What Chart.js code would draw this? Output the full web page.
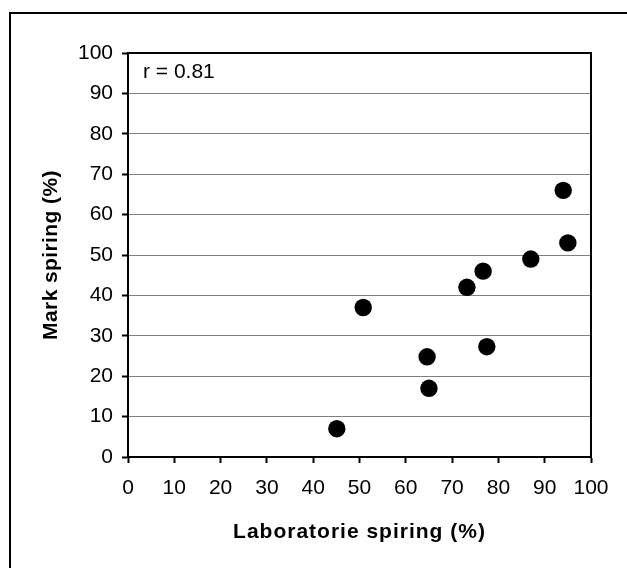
<!DOCTYPE html>
<html>
<head>
<meta charset="utf-8">
<script src="https://cdn.jsdelivr.net/npm/chart.js@4"></script>
<style>
  html, body { margin: 0; padding: 0; background: #fff; overflow: hidden; }
  #wrap { position: relative; width: 627px; height: 568px; }
  #frame { position: absolute; left: 9px; top: 12px; width: 700px; height: 700px; border: 2px solid #000; box-sizing: border-box; }
  canvas { position: absolute; left: 0; top: 0; }
</style>
</head>
<body>
<div id="wrap">
  <div id="frame"></div>
  <canvas id="chart" width="627" height="568"></canvas>
</div>
<script>
// values
const labSpiring = [45.1, 50.8, 64.6, 65.0, 73.2, 76.7, 77.5, 87.0, 94.0, 95.0];
const markSpiring = [7.0, 37.0, 24.8, 17.0, 42.0, 46.0, 27.3, 49.0, 66.0, 53.0];
const xTicks = [0, 10, 20, 30, 40, 50, 60, 70, 80, 90, 100];
const yTicks = [0, 10, 20, 30, 40, 50, 60, 70, 80, 90, 100];
const xTitle = 'Laboratorie spiring (%)';
const yTitle = 'Mark spiring (%)';
const corrText = 'r = 0.81';

const FONT = '"Liberation Sans", Arial, sans-serif';

const points = labSpiring.map((x, i) => ({ x: x, y: markSpiring[i] }));

// box round the plot area, the r value and the two axis titles
// (titles drawn here so the letter spacing of the original can be kept)
const plotFrame = {
    id: 'plotFrame',
    afterDraw: function(chart) {
        const ctx = chart.ctx;
        const a = chart.chartArea;
        const midX = (a.left + a.right) / 2;
        const midY = (a.top + a.bottom) / 2;
        ctx.save();
        ctx.strokeStyle = '#000';
        ctx.lineWidth = 2;
        ctx.strokeRect(a.left, a.top, a.right - a.left, a.bottom - a.top);

        ctx.fillStyle = '#000';
        ctx.font = '21px ' + FONT;
        ctx.textAlign = 'left';
        ctx.textBaseline = 'middle';
        ctx.fillText(corrText, a.left + 15, a.top + 19);

        ctx.font = 'bold 21px ' + FONT;
        ctx.textAlign = 'center';
        ctx.letterSpacing = '1px';
        ctx.fillText(xTitle, midX, a.bottom + 75);

        ctx.letterSpacing = '0.4px';
        ctx.translate(a.left - 77, midY);
        ctx.rotate(-Math.PI / 2);
        ctx.fillText(yTitle, 0, 0);
        ctx.restore();
    }
};

const ctx = document.getElementById('chart').getContext('2d');
const chart = new Chart(ctx, {
    type: 'scatter',
    data: {
        datasets: [{
            data: points,
            backgroundColor: '#000',
            borderWidth: 0,
            pointRadius: 8.7,
            pointHoverRadius: 8.7
        }]
    },
    options: {
        responsive: false,
        animation: false,
        events: [],
        layout: { padding: { left: 40, top: 53, right: 36, bottom: 0 } },
        plugins: {
            legend: { display: false },
            tooltip: { enabled: false }
        },
        scales: {
            x: {
                type: 'linear',
                min: 0,
                max: 100,
                afterBuildTicks: function(scale) { scale.ticks = xTicks.map(v => ({ value: v })); },
                afterFit: function(scale) { scale.height = 111; },
                ticks: { color: '#000', font: { family: FONT, size: 21 }, padding: 13, maxRotation: 0 },
                grid: { drawOnChartArea: false, drawTicks: true, tickLength: 6, tickColor: '#000', tickWidth: 2 },
                border: { color: '#000', width: 2 },
                title: { display: false }
            },
            y: {
                type: 'linear',
                min: 0,
                max: 100,
                afterBuildTicks: function(scale) { scale.ticks = yTicks.map(v => ({ value: v })); },
                afterFit: function(scale) { scale.width = 88; },
                ticks: { color: '#000', font: { family: FONT, size: 21 }, padding: 9 },
                grid: { color: '#808080', lineWidth: 1, drawTicks: true, tickLength: 6, tickColor: '#000', tickWidth: 2 },
                border: { color: '#000', width: 2 },
                title: { display: false }
            }
        }
    },
    plugins: [plotFrame]
});
</script>
</body>
</html>
